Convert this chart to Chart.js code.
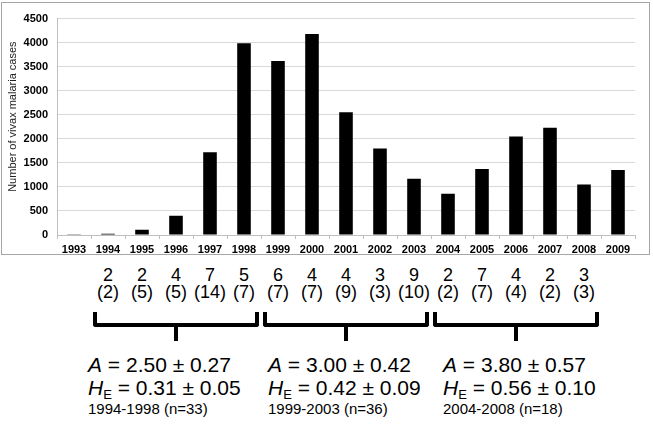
<!DOCTYPE html>
<html>
<head>
<meta charset="utf-8">
<script src="https://cdn.jsdelivr.net/npm/chart.js@4.4.1/dist/chart.umd.min.js"></script>
<style>
  body { margin:0; width:653px; height:427px; position:relative; background:#fff; overflow:hidden;
         font-family:"Liberation Sans", Arial, sans-serif; color:#000; }
  #chartBox { position:absolute; left:1px; top:2px; width:647px; height:251px; border:1px solid #a6a6a6; }
  .num { position:absolute; font-size:18px; line-height:18px; transform:translateX(-50%); white-space:nowrap; }
  .bracket { position:absolute; top:312px; height:15px; box-sizing:border-box; border:4px solid #000;
             border-top:none; border-radius:0 0 3px 3px; }
  .stem { position:absolute; top:325px; width:4px; height:16px; background:#000; margin-left:-2px; }
  .stat { position:absolute; font-size:21px; line-height:23px; white-space:nowrap; }
  .period { position:absolute; font-size:15px; line-height:17px; white-space:nowrap; }
  sub { font-size:13px; vertical-align:-4px; line-height:0; }
</style>
</head>
<body>
<div id="chartBox"><canvas id="casesChart"></canvas></div>
<div id="notes"></div>

<script>
// cases per year
const years = ['1993','1994','1995','1996','1997','1998','1999','2000','2001',
               '2002','2003','2004','2005','2006','2007','2008','2009'];
const cases = [3, 25, 110, 400, 1720, 3990, 3620, 4180, 2550,
               1800, 1170, 860, 1370, 2050, 2230, 1050, 1350];
const yTicks = [0, 500, 1000, 1500, 2000, 2500, 3000, 3500, 4000, 4500];

// numbers under 1994..2008
const firstSampleYear = '1994';
const haplotypes = [2, 2, 4, 7, 5, 6, 4, 4, 3, 9, 2, 7, 4, 2, 3];
const isolates   = [2, 5, 5, 14, 7, 7, 7, 9, 3, 10, 2, 7, 4, 2, 3];

// period summaries
const periods = ['1994-1998 (n=33)', '1999-2003 (n=36)', '2004-2008 (n=18)'];
const alleles = ['2.50 ± 0.27', '3.00 ± 0.42', '3.80 ± 0.57'];
const hetero  = ['0.31 ± 0.05', '0.42 ± 0.09', '0.56 ± 0.10'];
const periodYears = 5;

Chart.defaults.font.family = '"Liberation Sans", Arial, sans-serif';
Chart.defaults.color = '#000';

const yTitle = {
  id: 'yTitle',
  afterDraw(chart) {
    const { ctx, chartArea } = chart;
    ctx.save();
    ctx.translate(11, chartArea.top + (chartArea.bottom - chartArea.top) * 0.453);
    ctx.rotate(-Math.PI / 2);
    ctx.font = '11px "Liberation Sans", Arial, sans-serif';
    ctx.fillStyle = '#222';
    ctx.textAlign = 'center';
    ctx.textBaseline = 'middle';
    ctx.fillText('Number of vivax malaria cases', 0, 0);
    ctx.restore();
  }
};

const casesChart = new Chart('casesChart', {
  type: 'bar',
  data: {
    labels: years,
    datasets: [{
      data: cases,
      backgroundColor: '#000',
      barPercentage: 0.4,
      categoryPercentage: 1
    }]
  },
  options: {
    responsive: true,
    maintainAspectRatio: false,
    animation: false,
    layout: { padding: { top: 14, right: 14, left: 0, bottom: 0 } },
    plugins: { legend: { display: false }, tooltip: { enabled: false } },
    scales: {
      x: {
        afterFit(scale) { scale.height = 19; },
        grid: { offset: true, drawOnChartArea: false, tickLength: 4, color: '#bfbfbf' },
        border: { color: '#bfbfbf' },
        ticks: { font: { size: 11, weight: 'bold' }, padding: 4, maxRotation: 0 }
      },
      y: {
        min: 0,
        max: yTicks[yTicks.length - 1],
        afterBuildTicks(scale) { scale.ticks = yTicks.map(v => ({ value: v })); },
        afterFit(scale) { scale.width = 55; },
        grid: { color: '#d9d9d9', drawTicks: false },
        border: { color: '#bfbfbf' },
        ticks: { font: { size: 11, weight: 'bold' }, padding: 9, callback: v => String(v) }
      }
    }
  },
  plugins: [yTitle]
});

// notes under the chart, lined up with the year columns
const notes = document.getElementById('notes');
const xScale = casesChart.scales.x;
const offsetX = 2;
const colWidth = (xScale.right - xScale.left) / years.length;
const start = years.indexOf(firstSampleYear);

function add(cls, html, left, top) {
  const el = document.createElement('div');
  el.className = cls;
  el.innerHTML = html;
  el.style.left = left + 'px';
  if (top !== undefined) el.style.top = top + 'px';
  notes.appendChild(el);
  return el;
}

haplotypes.forEach((h, i) => {
  const cx = xScale.getPixelForValue(start + i) + offsetX;
  add('num', String(h), cx, 266);
  add('num', '(' + isolates[i] + ')', cx, 283);
});

const statLeft = [88, 268, 443];
periods.forEach((p, g) => {
  const first = start + g * periodYears;
  const last = first + periodYears - 1;
  const left = xScale.getPixelForValue(first) - colWidth / 2 + offsetX + 2;
  const right = xScale.getPixelForValue(last) + colWidth / 2 + offsetX - 2;
  const b = add('bracket', '', left);
  b.style.width = (right - left) + 'px';
  add('stem', '', (left + right) / 2);

  add('stat', '<i>A</i> = ' + alleles[g], statLeft[g], 353);
  add('stat', '<i>H</i><sub>E</sub> = ' + hetero[g], statLeft[g], 376);
  add('period', p, statLeft[g], 400);
});
</script>
</body>
</html>
